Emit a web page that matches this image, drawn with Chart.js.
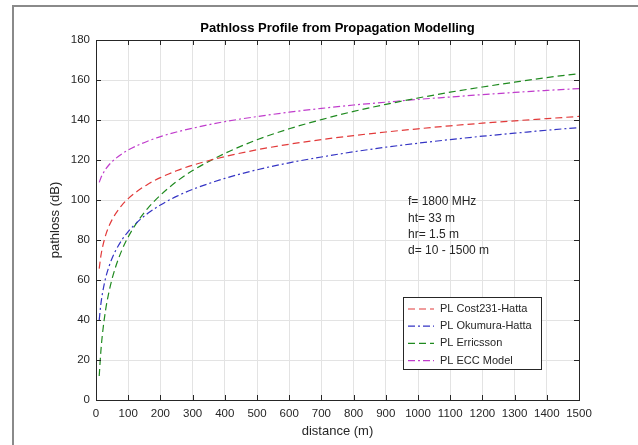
<!DOCTYPE html>
<html>
<head>
<meta charset="utf-8">
<script src="https://cdn.jsdelivr.net/npm/chart.js@4.4.1/dist/chart.umd.min.js"></script>
<style>
  html, body { margin: 0; padding: 0; background: #ffffff; }
  #wrap { width: 638px; height: 445px; position: relative; }
</style>
</head>
<body>
<div id="wrap"><canvas id="c" width="638" height="445"></canvas></div>
<script>
// ---- data ----
const distance = [10, 15, 20, 30, 40, 50, 60, 80, 100, 130, 160, 200, 250, 300, 400, 500, 600, 700, 800, 900, 1000, 1100, 1200, 1300, 1400, 1500];
const plCost231 = [65.7, 71.9, 76.2, 82.4, 86.8, 90.2, 92.9, 97.3, 100.7, 104.6, 107.8, 111.2, 114.6, 117.4, 121.7, 125.1, 127.9, 130.2, 132.2, 134.0, 135.6, 137.1, 138.4, 139.6, 140.7, 141.8];
const plOkumura = [40.0, 47.8, 53.3, 61.1, 66.6, 70.9, 74.4, 79.9, 84.2, 89.2, 93.2, 97.5, 101.8, 105.3, 110.8, 115.1, 118.6, 121.5, 124.1, 126.4, 128.4, 130.2, 131.9, 133.4, 134.9, 136.2];
const plEricsson = [12.0, 24.2, 32.9, 45.2, 53.8, 60.6, 66.1, 74.8, 81.5, 89.4, 95.7, 102.4, 109.2, 114.7, 123.3, 130.1, 135.6, 140.2, 144.3, 147.8, 151.0, 153.9, 156.5, 158.9, 161.2, 163.2];
const plECC = [108.8, 111.0, 112.7, 115.4, 117.5, 119.2, 120.6, 123.0, 125.0, 127.4, 129.4, 131.7, 134.0, 135.9, 139.2, 141.7, 143.9, 145.8, 147.5, 148.9, 150.3, 151.5, 152.7, 153.8, 154.8, 155.7];
const seriesNames = ['PL Cost231-Hatta', 'PL Okumura-Hatta', 'PL Erricsson', 'PL ECC Model'];
const xTicks = [0, 100, 200, 300, 400, 500, 600, 700, 800, 900, 1000, 1100, 1200, 1300, 1400, 1500];
const yTicks = [0, 20, 40, 60, 80, 100, 120, 140, 160, 180];
const chartTitle = 'Pathloss Profile from Propagation Modelling';
const xTitle = 'distance (m)';
const yTitle = 'pathloss (dB)';
const noteLines = ['f= 1800 MHz', 'ht= 33 m', 'hr= 1.5 m', 'd= 10 - 1500 m'];

// ---- styling ----
const FONT = '"Liberation Sans", Arial, Helvetica, sans-serif';
const TXT = '#262626';
const DASH = [7, 4];
const DASHDOT = [7, 3, 2, 3];
const styles = [
  { color: '#e23a3a', dash: DASH },
  { color: '#3434c4', dash: DASHDOT },
  { color: '#1f8a1f', dash: DASH },
  { color: '#c03ccc', dash: DASHDOT }
];
const seriesValues = [plCost231, plOkumura, plEricsson, plECC];

const datasets = seriesValues.map((vals, i) => ({
  label: seriesNames[i],
  data: distance.map((d, k) => ({ x: d, y: vals[k] })),
  borderColor: styles[i].color,
  backgroundColor: styles[i].color,
  borderDash: styles[i].dash,
  borderWidth: 1.2,
  pointRadius: 0,
  fill: false,
  cubicInterpolationMode: 'monotone'
}));

const decorPlugin = {
  id: 'decor',
  afterDraw(chart) {
    const ctx = chart.ctx;
    const a = chart.chartArea;
    const xs = chart.scales.x, ys = chart.scales.y;
    ctx.save();
    // outer figure frame
    ctx.strokeStyle = '#8a8a8a';
    ctx.lineWidth = 2;
    ctx.strokeRect(13, 6, 700, 600);

    // axes box
    ctx.strokeStyle = TXT;
    ctx.lineWidth = 1;
    ctx.setLineDash([]);
    ctx.strokeRect(Math.round(a.left) + 0.5, Math.round(a.top) + 0.5, Math.round(a.right - a.left), Math.round(a.bottom - a.top));

    // inward ticks on all four sides
    const TL = 5;
    ctx.beginPath();
    xTicks.forEach(v => {
      const px = Math.round(xs.getPixelForValue(v)) + 0.5;
      ctx.moveTo(px, a.bottom); ctx.lineTo(px, a.bottom - TL);
      ctx.moveTo(px, a.top); ctx.lineTo(px, a.top + TL);
    });
    yTicks.forEach(v => {
      const py = Math.round(ys.getPixelForValue(v)) + 0.5;
      ctx.moveTo(a.left, py); ctx.lineTo(a.left + TL, py);
      ctx.moveTo(a.right, py); ctx.lineTo(a.right - TL, py);
    });
    ctx.stroke();

    // title
    ctx.fillStyle = '#000000';
    ctx.font = 'bold 13px ' + FONT;
    ctx.textAlign = 'center';
    ctx.textBaseline = 'middle';
    ctx.fillText(chartTitle, (a.left + a.right) / 2, 28);

    // axis titles
    ctx.fillStyle = TXT;
    ctx.font = '13px ' + FONT;
    ctx.fillText(xTitle, (a.left + a.right) / 2, 431);
    ctx.save();
    ctx.translate(55, (a.top + a.bottom) / 2);
    ctx.rotate(-Math.PI / 2);
    ctx.fillText(yTitle, 0, 0);
    ctx.restore();

    // annotation text
    ctx.textAlign = 'left';
    ctx.font = '12px ' + FONT;
    noteLines.forEach((t, i) => ctx.fillText(t, 408, 202 + i * 16.3));

    // legend
    const lx = 403.5, ly = 297.5, lw = 138, lh = 72;
    ctx.fillStyle = '#ffffff';
    ctx.fillRect(lx, ly, lw, lh);
    ctx.strokeStyle = '#262626';
    ctx.lineWidth = 1;
    ctx.strokeRect(lx, ly, lw, lh);
    ctx.font = '11px ' + FONT;
    datasets.forEach((ds, i) => {
      const yy = 309 + i * 17.2;
      ctx.strokeStyle = ds.borderColor;
      ctx.lineWidth = 1.2;
      ctx.setLineDash(ds.borderDash);
      ctx.beginPath();
      ctx.moveTo(408, yy); ctx.lineTo(434, yy);
      ctx.stroke();
      ctx.setLineDash([]);
      ctx.fillStyle = TXT;
      ctx.fillText(ds.label, 440, yy);
    });
    ctx.restore();
  }
};

new Chart(document.getElementById('c'), {
  type: 'line',
  data: { datasets },
  options: {
    responsive: false,
    animation: false,
    events: [],
    layout: { padding: { left: 14, top: 40, right: 59, bottom: 0 } },
    plugins: { legend: { display: false }, title: { display: false }, tooltip: { enabled: false } },
    scales: {
      x: {
        type: 'linear', min: 0, max: 1500,
        afterBuildTicks: s => { s.ticks = xTicks.map(v => ({ value: v })); },
        afterFit: s => { s.height = 45; },
        grid: { color: '#e3e3e3', drawTicks: false, lineWidth: 1 },
        border: { display: false },
        ticks: { color: TXT, font: { family: FONT, size: 11.5 }, padding: 7, maxRotation: 0, autoSkip: false,
                 callback: v => String(v) }
      },
      y: {
        type: 'linear', min: 0, max: 180,
        afterBuildTicks: s => { s.ticks = yTicks.map(v => ({ value: v })); },
        afterFit: s => { s.width = 82; },
        grid: { color: '#e3e3e3', drawTicks: false, lineWidth: 1 },
        border: { display: false },
        ticks: { color: TXT, font: { family: FONT, size: 11.5 }, padding: 6, callback: v => String(v) }
      }
    }
  },
  plugins: [decorPlugin]
});
</script>
</body>
</html>
